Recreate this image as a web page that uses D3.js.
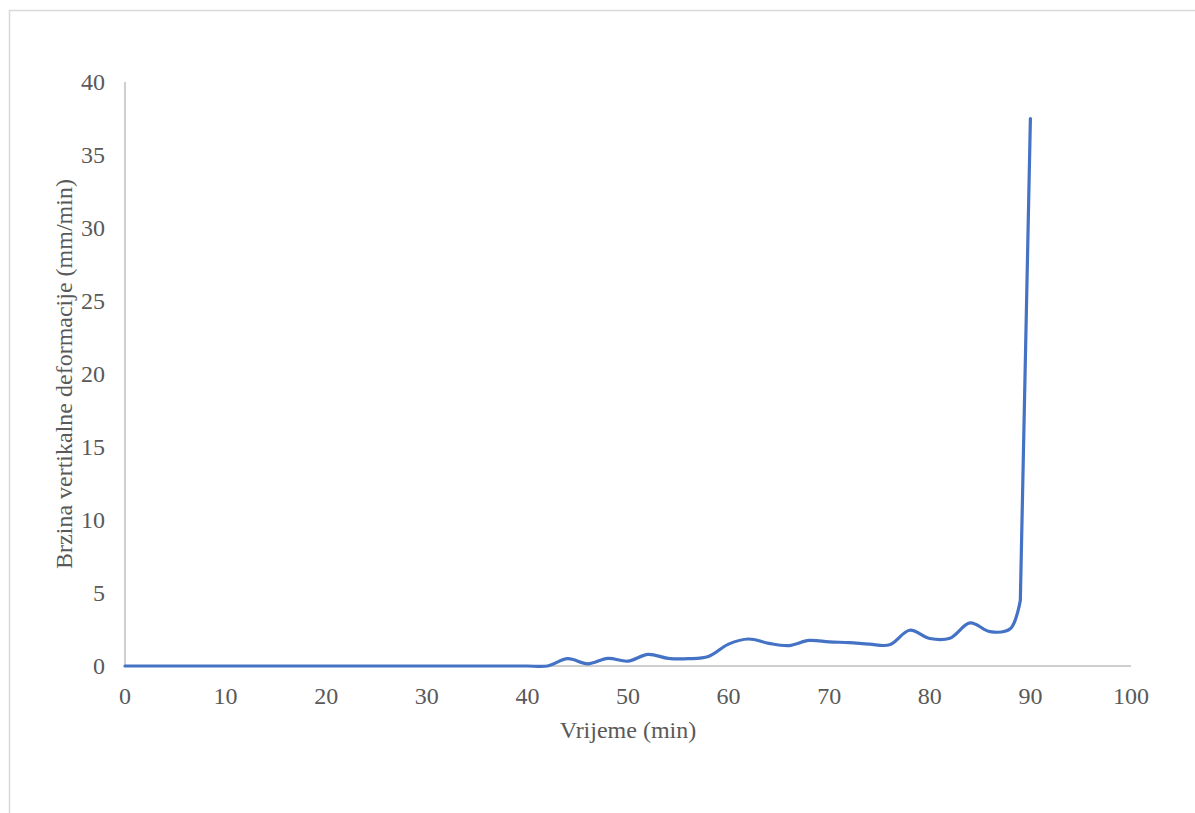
<!DOCTYPE html>
<html>
<head>
<meta charset="utf-8">
<script src="https://cdn.jsdelivr.net/npm/d3@7"></script>
<style>
  html, body { margin: 0; padding: 0; background: #fff; }
  svg { display: block; }
</style>
</head>
<body>
<svg id="chart" width="1195" height="813"></svg>
<script>
// Data
const timeMin = [0,2,4,6,8,10,12,14,16,18,20,22,24,26,28,30,32,34,36,38,40,
                 42,44,46,48,50,52,54,56,58,60,62,64,66,68,70,72,74,76,78,80,82,84,86,88,89,90];
const rateValues = [0,0,0,0,0,0,0,0,0,0,0,0,0,0,0,0,0,0,0,0,0,
                 0,0.5,0.15,0.52,0.33,0.8,0.52,0.5,0.65,1.5,1.85,1.55,1.4,1.75,1.65,1.6,1.5,1.45,2.45,1.88,1.9,2.95,2.35,2.55,4.5,37.5];
const xTicks = [0,10,20,30,40,50,60,70,80,90,100];
const yTicks = [0,5,10,15,20,25,30,35,40];
const xTitle = "Vrijeme (min)";
const yTitle = "Brzina vertikalne deformacije (mm/min)";

const svg = d3.select("#chart");
const font = "'Liberation Serif', 'Times New Roman', serif";
const fs = 24;

// outer frame
svg.append("rect").attr("x", 9.5).attr("y", 10.5).attr("width", 1200).attr("height", 820)
  .attr("fill", "none").attr("stroke", "#d9d9d9").attr("stroke-width", 1.5);

const x = d3.scaleLinear().domain([0, 100]).range([125, 1131]);
const y = d3.scaleLinear().domain([0, 40]).range([666, 82]);

// axes lines
svg.append("line").attr("x1", x(0)).attr("x2", x(0)).attr("y1", y(40)).attr("y2", y(0))
  .attr("stroke", "#bfbfbf").attr("stroke-width", 1.5);
svg.append("line").attr("x1", x(0)).attr("x2", x(100)).attr("y1", y(0)).attr("y2", y(0))
  .attr("stroke", "#bfbfbf").attr("stroke-width", 1.5);

// tick labels
svg.append("g").selectAll("text").data(yTicks).join("text")
  .attr("x", 105).attr("y", d => y(d)).attr("dy", "0.34em")
  .attr("text-anchor", "end").attr("font-family", font).attr("font-size", fs)
  .attr("fill", "#595959").text(d => d);
svg.append("g").selectAll("text").data(xTicks).join("text")
  .attr("x", d => x(d)).attr("y", 704)
  .attr("text-anchor", "middle").attr("font-family", font).attr("font-size", fs)
  .attr("fill", "#595959").text(d => d);

// titles
svg.append("text").attr("x", (x(0)+x(100))/2).attr("y", 738)
  .attr("text-anchor", "middle").attr("font-family", font).attr("font-size", fs)
  .attr("fill", "#595959").text(xTitle);
svg.append("text").attr("transform", `translate(72,${(y(0)+y(40))/2}) rotate(-90)`)
  .attr("text-anchor", "middle").attr("font-family", font).attr("font-size", fs)
  .attr("fill", "#595959").text(yTitle);

// line: smoothed through the slow phase, straight for the final jump
const pts = timeMin.map((t, i) => [t, rateValues[i]]);
const n = pts.length;
const smooth = d3.line().x(d => x(d[0])).y(d => y(d[1])).curve(d3.curveCatmullRom.alpha(0.5));
const straight = d3.line().x(d => x(d[0])).y(d => y(d[1]));
const d1 = smooth(pts.slice(0, n - 1));
const d2 = straight(pts.slice(n - 2)).replace(/^M[^L]*/, "");
svg.append("path").attr("d", d1 + d2).attr("fill", "none")
  .attr("stroke", "#4472C4").attr("stroke-width", 3.2)
  .attr("stroke-linecap", "round").attr("stroke-linejoin", "round");
</script>
</body>
</html>
